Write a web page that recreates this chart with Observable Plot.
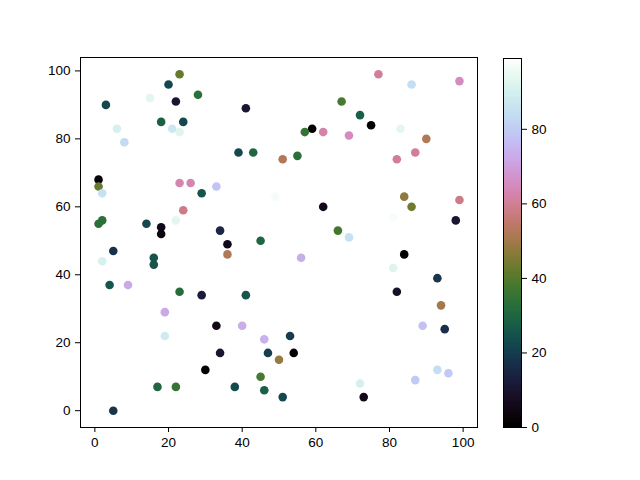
<!DOCTYPE html>
<html>
<head>
<meta charset="utf-8">
<script src="https://cdn.jsdelivr.net/npm/d3@7"></script>
<script src="https://cdn.jsdelivr.net/npm/@observablehq/plot@0.6"></script>
<style>
  html, body { margin: 0; padding: 0; background: white; }
  #wrap { position: relative; width: 640px; height: 480px; overflow: hidden; }
  #main, #cbar { position: absolute; top: 0; }
  #main { left: 0; }
  #cbar { left: 503px; }
</style>
</head>
<body>
<div id="wrap"><div id="main"></div><div id="cbar"></div></div>
<script>
const xs = [23,20,28,15,22,3,1,18,24,21,23,6,8,1,1,23,26,33,41,67,59,57,62,69,39,43,51,55,77,86,99,72,75,83,90,87,82,2,29,24,22,1,2,14,18,18,34,5,2,16,16,4,9,23,29,49,62,45,66,69,36,36,56,41,84,86,99,81,98,84,81,93,82,94,19,19,33,34,30,17,22,5,40,46,53,47,54,50,45,38,46,51,89,95,93,96,87,72,73];
const ys = [99,96,93,92,91,90,88,85,85,83,82,83,79,68,66,67,67,66,89,91,83,82,82,81,76,76,74,75,99,96,97,87,84,83,80,76,74,64,64,59,56,55,56,55,54,52,53,47,44,45,43,37,37,35,34,63,60,50,53,51,49,46,45,34,63,60,62,57,56,46,42,39,35,31,29,22,25,17,12,7,7,0,25,21,22,17,17,15,10,7,6,4,25,24,12,11,9,8,4];
const cs = [42,22,33,93,10,22,99,28,22,87,92,90,83,2,42,63,63,78,10,38,0,35,62,65,22,30,52,33,60,84,65,28,1,93,52,60,60,85,25,58,93,33,33,22,5,3,15,17,90,25,25,25,72,32,12,97,5,30,37,85,5,52,73,25,47,43,58,97,10,1,92,18,8,50,72,88,5,10,1,30,35,18,73,74,20,20,1,48,38,23,28,22,77,17,84,79,79,90,5];
const xTicks = [0,20,40,60,80,100];
const yTicks = [0,20,40,60,80,100];
const cTicks = [0,20,40,60,80];

const data = xs.map((x, i) => ({x, y: ys[i], c: cs[i]}));
const [cmin, cmax] = d3.extent(cs);
const colorOpt = {type: "linear", scheme: "cubehelix", domain: [cmin, cmax]};
const font = {fontFamily: "'Liberation Sans', Arial, sans-serif", fontSize: "13.5px", background: "white", color: "black"};

const main = Plot.plot({
  width: 640, height: 480,
  marginLeft: 80, marginRight: 163, marginTop: 57, marginBottom: 53,
  style: font,
  x: {domain: [-3.9, 103.9]},
  y: {domain: [-4.95, 103.95]},
  color: colorOpt,
  marks: [
    Plot.dot(data, {x: "x", y: "y", fill: "c", r: 4.3}),
    Plot.frame({stroke: "black", strokeWidth: 1}),
    Plot.axisX({ticks: xTicks, tickSize: 5, tickPadding: 5, label: null, stroke: "black", fill: "black"}),
    Plot.axisY({ticks: yTicks, tickSize: 5, tickPadding: 5, label: null, stroke: "black", fill: "black"})
  ]
});
document.getElementById("main").appendChild(main);

const step = (cmax - cmin) / 300;
const steps = d3.range(cmin, cmax, step);
const cbar = Plot.plot({
  width: 60, height: 480,
  marginLeft: 0, marginRight: 42, marginTop: 58, marginBottom: 53,
  style: Object.assign({}, font, {background: "transparent"}),
  x: {domain: [0, 1], axis: null},
  y: {domain: [cmin, cmax]},
  color: colorOpt,
  marks: [
    Plot.rect(steps, {x1: 0, x2: 1, y1: d => d, y2: d => Math.min(cmax, d + step * 1.8), fill: d => d}),
    Plot.frame({stroke: "black", strokeWidth: 1}),
    Plot.axisY({anchor: "right", ticks: cTicks, tickSize: 5, tickPadding: 5, label: null, stroke: "black", fill: "black"})
  ]
});
document.getElementById("cbar").appendChild(cbar);
</script>
</body>
</html>
